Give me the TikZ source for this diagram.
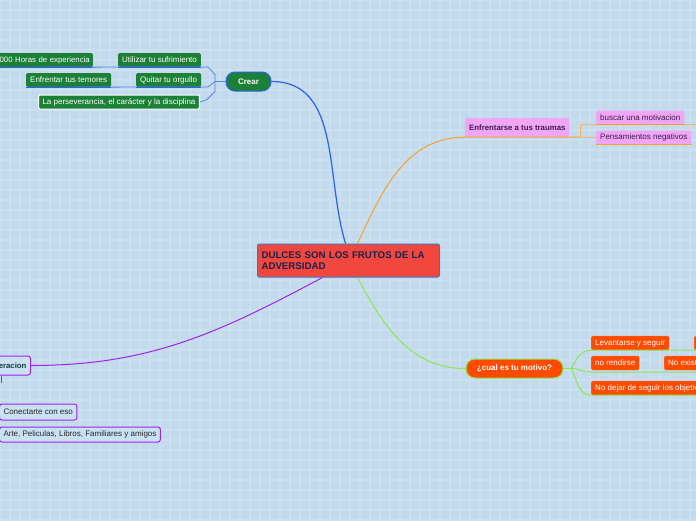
\documentclass[tikz,border=0pt]{standalone}
\usepackage{fontspec}
\setmainfont{Liberation Sans}
\usetikzlibrary{positioning}

\definecolor{bgcol}{HTML}{C3DAEC}
\definecolor{gridcol}{HTML}{CADFF0}
\definecolor{titlered}{HTML}{F2473F}
\definecolor{titleblue}{HTML}{3A78C0}
\definecolor{titletext}{HTML}{18224E}
\definecolor{crgreen}{HTML}{1C8036}
\definecolor{crblue}{HTML}{2A62EE}
\definecolor{tpink}{HTML}{F0A6F4}
\definecolor{tpurple}{HTML}{3C1D4E}
\definecolor{tline}{HTML}{F5A22A}
\definecolor{morange}{HTML}{FF4A00}
\definecolor{mgreen}{HTML}{8FE64C}
\definecolor{sblue}{HTML}{C9E1F3}
\definecolor{spurple}{HTML}{A023F2}
\definecolor{steal}{HTML}{123F3F}

\tikzset{
  box/.style={rectangle, rounded corners=1.5pt, inner xsep=4pt, inner ysep=0pt,
    minimum height=14pt, font=\fontsize{8}{9}\selectfont},
  greenbox/.style={box, fill=crgreen, text=white},
  pinkbox/.style={box, fill=tpink, text=tpurple},
  redbox/.style={box, fill=morange, text=white, draw=morange!75!white, line width=0.4pt},
  bluebox/.style={box, fill=sblue, draw=spurple, line width=1pt, rounded corners=2.5pt, text=black!85},
  pill/.style={rectangle, rounded corners=9pt, minimum height=19pt, inner xsep=2pt,
    font=\bfseries\fontsize{8}{9}\selectfont, text=white, line width=1pt},
  crearline/.style={draw=crblue, line width=1.2pt},
  cbranch/.style={draw=crblue!80!white, line width=0.8pt},
  cunder/.style={draw=crblue, line width=1.2pt},
  traumaline/.style={draw=tline, line width=1pt},
  tbranch/.style={draw=tline!80!white, line width=0.8pt},
  motline/.style={draw=mgreen, line width=1pt},
  supline/.style={draw=spurple, line width=1pt}
}

\begin{document}
\begin{tikzpicture}[x=1pt,y=-1pt]
  \useasboundingbox (0,0) rectangle (696,520);
  \clip (0,0) rectangle (696,520);
  \fill[bgcol] (0,0) rectangle (696,520);
  \foreach \gx in {0,10,...,690} \draw[gridcol, line width=1.5pt] (\gx,0) -- (\gx,520);
  \foreach \gy in {0,10,...,520} \draw[gridcol, line width=1.5pt] (0,\gy) -- (696,\gy);

  % central topic
  \node[rectangle, rounded corners=2pt, fill=titlered, draw=titleblue, line width=1pt,
    text width=174pt, align=left, inner xsep=4pt, minimum height=33pt, anchor=west,
    text=titletext, font=\bfseries\fontsize{9.7}{11}\selectfont] (titulo) at (257,260.5)
    {DULCES SON LOS FRUTOS DE LA ADVERSIDAD};

  % Crear
  \node[pill, fill=crgreen, draw=crblue, minimum width=45pt] (crear) at (248.5,81.5) {Crear};
  \node[greenbox, font=\fontsize{7.8}{9}\selectfont, inner xsep=3pt, text width=100pt,
    align=right, anchor=east] (horas) at (93,60) {000 Horas de experiencia};
  \node[greenbox, anchor=west] (utilizar) at (118,60) {Utilizar tu sufrimiento};
  \node[greenbox, anchor=west] (enfrentar) at (26,80) {Enfrentar tus temores};
  \node[greenbox, anchor=west] (orgullo) at (136,80) {Quitar tu orgullo};
  \node[greenbox, draw=white, line width=1pt, anchor=west] (perseverancia) at (38,102)
    {La perseverancia, el carácter y la disciplina};

  % traumas
  \node[pinkbox, font=\bfseries\fontsize{7.8}{9}\selectfont, minimum height=19pt, anchor=west]
    (traumas) at (465,127.5) {Enfrentarse a tus traumas};
  \node[pinkbox, anchor=west] (buscar) at (596,117.5) {buscar una motivacion};
  \node[pinkbox, anchor=west] (negativos) at (596,137.5) {Pensamientos negativos};

  % motivo
  \node[pill, fill=morange, draw=mgreen, minimum width=97pt] (motivo) at (514.5,368.5) {¿cual es tu motivo?};
  \node[redbox, anchor=west] (levantarse) at (591,343) {Levantarse y seguir};
  \node[redbox, anchor=west, minimum width=20pt] (siguiente) at (694,343) {};
  \node[redbox, anchor=west] (rendirse) at (591,363) {no rendirse};
  \node[redbox, anchor=west] (existe) at (664,363) {No existe};
  \node[redbox, anchor=west] (objetivos) at (591,388) {No dejar de seguir los objetivos};

  % left branch
  \node[bluebox, text=steal, font=\bfseries\fontsize{7.8}{9}\selectfont, text width=40pt,
    align=right, minimum height=19pt, anchor=east] (superacion) at (31,365.5) {eracion};
  \node[bluebox, minimum height=16pt, anchor=west] (conectarte) at (-1,412) {Conectarte con eso};
  \node[bluebox, minimum height=15pt, anchor=west] (arte) at (-1,434.5)
    {Arte, Peliculas, Libros, Familiares y amigos};

  % connectors
  \draw[crearline] ([xshift=-3pt]titulo.north) to[out=107,in=0] (crear.east);
  \draw[traumaline] ([xshift=9pt]titulo.north) to[out=65,in=180] (traumas.south west)
    -- (traumas.south east) -- ++(11,0) coordinate (tfork);
  \draw[motline] ([xshift=9pt]titulo.south) to[out=-62,in=180] (motivo.west);
  \draw[supline] ([xshift=-26pt]titulo.south) to[out=-152,in=0] (superacion.east);

  \coordinate (cfork) at (215,81.5);
  \draw[cbranch] (crear.west) -- (cfork);
  \draw[cbranch] (cfork) -- ++(0,-7) -- ++(-7,-7.5) -- (horas.south west);
  \draw[cbranch] (cfork) -- ++(-7,5.5) -- (enfrentar.south west);
  \draw[cbranch] (cfork) -- ++(0,10) -- ++(-8,8) -- (perseverancia.east);
  \foreach \n in {horas,utilizar,enfrentar,orgullo}
    \draw[cunder] (\n.south west) -- (\n.south east);

  \coordinate (tend) at (700,124.5);
  \draw[tbranch] (tfork) -- (tfork |- buscar.south) -- (tend);
  \draw[tbranch] (tfork) -- (negativos.west);
  \draw[traumaline, line width=1.3pt] (buscar.south west) -- (buscar.south east);
  \draw[traumaline, line width=1.3pt] (negativos.south west) -- (negativos.south east);

  \coordinate (mfork) at (571,368.5);
  \coordinate (mmid) at (591,372);
  \draw[motline] (motivo.east) -- (mfork);
  \draw[motline] (mfork) to[out=60,in=180] (levantarse.south west) -- (siguiente.south east);
  \draw[motline] (mfork) to[out=0,in=180] (mmid) -- (existe.south east |- mmid);
  \draw[motline] (mfork) to[out=-60,in=180] (objetivos.south west) -- (objetivos.south east);

  \coordinate (sdrop) at (1,383);
  \draw[supline] (superacion.south -| sdrop) -- (sdrop);
\end{tikzpicture}
\end{document}
